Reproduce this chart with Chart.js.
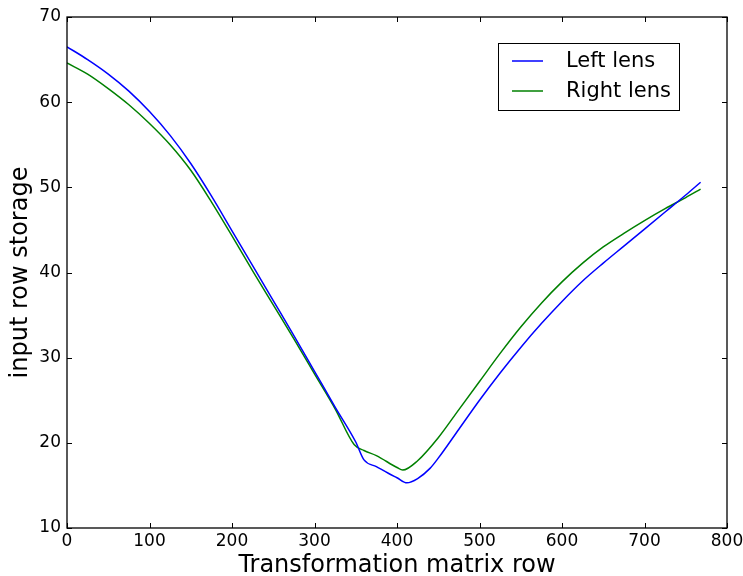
<!DOCTYPE html>
<html>
<head>
<meta charset="utf-8">
<script src="https://cdn.jsdelivr.net/npm/chart.js@4"></script>
<style>
	html, body { margin: 0; padding: 0; background: #fff; }
	#wrap { width: 743px; height: 576px; }
</style>
</head>
<body>
<div id="wrap"><canvas id="chart"></canvas></div>
<script>
// values
const leftRows = [0, 25, 50, 75, 100, 125, 150, 175, 200, 225, 250, 275, 300, 325, 350, 360, 375, 390, 400, 412, 425, 440, 450, 475, 500, 525, 550, 575, 600, 625, 650, 675, 700, 725, 750, 768];
const leftLens = [66.5, 65.0, 63.3, 61.3, 58.9, 56.1, 52.8, 49.0, 44.9, 40.8, 36.7, 32.6, 28.4, 24.2, 20.1, 18.0, 17.2, 16.4, 15.9, 15.3, 15.8, 17.0, 18.2, 21.6, 25.0, 28.2, 31.2, 34.0, 36.6, 39.0, 41.1, 43.1, 45.1, 47.1, 49.1, 50.6];

const rightRows = [0, 25, 50, 75, 100, 125, 150, 175, 200, 225, 250, 275, 300, 325, 348, 360, 375, 400, 407, 425, 450, 475, 500, 525, 550, 575, 600, 625, 650, 675, 700, 725, 750, 768];
const rightLens = [64.6, 63.3, 61.6, 59.7, 57.5, 55.0, 52.0, 48.3, 44.3, 40.2, 36.2, 32.2, 28.1, 24.0, 19.8, 19.1, 18.5, 17.1, 16.8, 17.9, 20.6, 23.9, 27.2, 30.5, 33.6, 36.4, 38.9, 41.1, 43.0, 44.6, 46.1, 47.5, 48.8, 49.8];

const xTicks = [0, 100, 200, 300, 400, 500, 600, 700, 800];
const yTicks = [10, 20, 30, 40, 50, 60, 70];

const FONT = 'DejaVu Sans';

// matplotlib style: frame box and inward ticks on all four sides
const framePlugin = {
	id: 'frame',
	afterDatasetsDraw(chart) {
		const { ctx, chartArea: a, scales } = chart;
		ctx.save();
		ctx.strokeStyle = '#000';
		ctx.lineWidth = 1;
		ctx.beginPath();
		for (let v of xTicks) {
			let px = Math.round(scales.x.getPixelForValue(v)) + 0.5;
			ctx.moveTo(px, a.bottom); ctx.lineTo(px, a.bottom - 5);
			ctx.moveTo(px, a.top); ctx.lineTo(px, a.top + 5);
		}
		for (let v of yTicks) {
			let py = Math.round(scales.y.getPixelForValue(v)) + 0.5;
			ctx.moveTo(a.left, py); ctx.lineTo(a.left + 5, py);
			ctx.moveTo(a.right, py); ctx.lineTo(a.right - 5, py);
		}
		ctx.stroke();
		ctx.lineWidth = 1.3;
		ctx.strokeRect(a.left, a.top, a.right - a.left, a.bottom - a.top);
		ctx.restore();
	}
};

// legend box drawn inside the plot, upper right
const legendPlugin = {
	id: 'boxLegend',
	afterDraw(chart) {
		const { ctx, chartArea: a } = chart;
		const x0 = a.right - 229, y0 = a.top + 26, w = 181, h = 67;
		ctx.save();
		ctx.fillStyle = '#fff';
		ctx.fillRect(x0, y0, w, h);
		ctx.strokeStyle = '#000';
		ctx.lineWidth = 1;
		ctx.strokeRect(x0 + 0.5, y0 + 0.5, w, h);
		ctx.font = '21px "' + FONT + '"';
		ctx.textBaseline = 'middle';
		chart.data.datasets.forEach((ds, i) => {
			let cy = y0 + 18 + i * 30;
			ctx.strokeStyle = ds.borderColor;
			ctx.lineWidth = 1.5;
			ctx.beginPath();
			ctx.moveTo(x0 + 14, cy); ctx.lineTo(x0 + 45, cy);
			ctx.stroke();
			ctx.fillStyle = '#000';
			ctx.fillText(ds.label, x0 + 68, cy + 1);
		});
		ctx.restore();
	}
};

new Chart(document.getElementById('chart'), {
	type: 'line',
	data: {
		datasets: [{
			label: 'Left lens',
			data: leftRows.map((r, i) => ({ x: r, y: leftLens[i] })),
			borderColor: '#0000ff',
			borderWidth: 1.5,
			pointRadius: 0,
			cubicInterpolationMode: 'monotone',
			fill: false
		}, {
			label: 'Right lens',
			data: rightRows.map((r, i) => ({ x: r, y: rightLens[i] })),
			borderColor: '#008000',
			borderWidth: 1.5,
			pointRadius: 0,
			cubicInterpolationMode: 'monotone',
			fill: false
		}]
	},
	options: {
		responsive: true,
		maintainAspectRatio: false,
		animation: false,
		layout: { padding: { top: 17, right: 16, left: 0, bottom: 0 } },
		plugins: {
			legend: { display: false },
			tooltip: { enabled: false }
		},
		scales: {
			x: {
				type: 'linear',
				min: 0,
				max: 800,
				afterBuildTicks: s => { s.ticks = xTicks.map(v => ({ value: v })); },
				afterFit: s => { s.height = 48; s.paddingRight = 0; s.paddingLeft = 0; },
				grid: { display: false, drawTicks: false, tickLength: 0 },
				border: { display: false },
				ticks: { color: '#000', font: { family: FONT, size: 17 }, padding: 3, maxRotation: 0 },
				title: {
					display: true,
					text: 'Transformation matrix row',
					color: '#000',
					font: { family: FONT, size: 24, lineHeight: 1 },
					padding: { top: 0, bottom: -2 }
				}
			},
			y: {
				min: 10,
				max: 70,
				afterBuildTicks: s => { s.ticks = yTicks.map(v => ({ value: v })); },
				afterFit: s => { s.width = 67; s.paddingTop = 0; s.paddingBottom = 0; },
				grid: { display: false, drawTicks: false, tickLength: 0 },
				border: { display: false },
				ticks: { color: '#000', font: { family: FONT, size: 17 }, padding: 6 },
				title: {
					display: true,
					text: 'input row storage',
					color: '#000',
					font: { family: FONT, size: 24, lineHeight: 1 },
					padding: { top: 9, bottom: 0 }
				}
			}
		}
	},
	plugins: [framePlugin, legendPlugin]
});
</script>
</body>
</html>
